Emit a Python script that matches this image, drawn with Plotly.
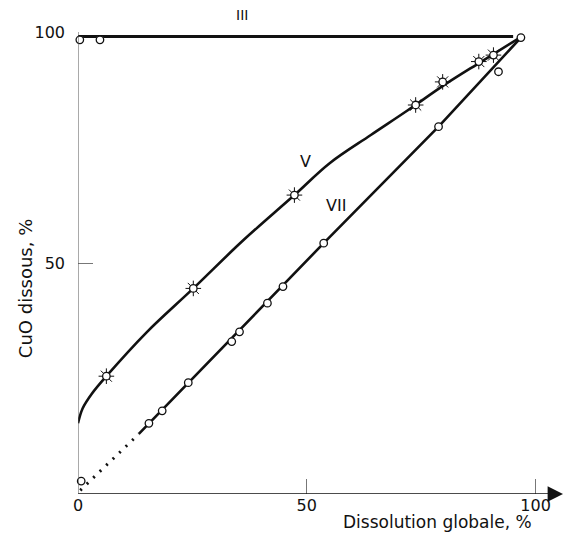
import plotly.graph_objects as go

# ---- data ----
# Curve III (top, flat)
top_line_x = [0.0, 95.1]
top_line_y = [99.0, 99.0]
top_pts_x = [0.4, 4.8]
top_pts_y = [98.3, 98.3]

# Curve V (smooth curve + marked points)
v_curve_x = [0.0, 1.0, 3.1, 6.2, 15.0, 25.2, 36.0, 47.3, 55.0, 64.0, 72.0, 80.0, 88.0, 96.6]
v_curve_y = [15.3, 18.5, 21.8, 25.5, 35.0, 44.5, 54.8, 64.7, 71.6, 77.7, 83.0, 88.5, 93.5, 98.8]
v_pts_x = [6.2, 25.2, 47.3, 73.8, 79.7, 87.6, 90.8]
v_pts_y = [25.5, 44.5, 64.7, 84.2, 89.2, 93.6, 95.0]

# Curve VII
vii_dot_x = [0.5, 13.3]
vii_dot_y = [0.8, 13.0]
vii_line_x = [13.3, 53.7, 78.8, 96.8]
vii_line_y = [13.0, 54.3, 79.5, 98.8]
vii_pts_x = [0.7, 15.5, 18.4, 24.1, 33.6, 35.3, 41.4, 44.8, 53.7, 78.8, 91.9, 96.8]
vii_pts_y = [2.8, 15.3, 18.0, 24.1, 33.0, 35.1, 41.3, 44.9, 54.3, 79.5, 91.4, 98.8]

x_ticks = [0, 50, 100]
x_ticktext = ["0", "50", "100"]
y_ticks = [50, 100]
y_ticktext = ["50", "100"]

FONT = "DejaVu Sans"
INK = "#111111"

fig = go.Figure()

fig.add_trace(go.Scatter(x=top_line_x, y=top_line_y, mode="lines",
                         line=dict(color=INK, width=3), cliponaxis=False, showlegend=False))
fig.add_trace(go.Scatter(x=v_curve_x, y=v_curve_y, mode="lines",
                         line=dict(color=INK, width=2.6, shape="spline", smoothing=1.0),
                         cliponaxis=False, showlegend=False))
fig.add_trace(go.Scatter(x=vii_dot_x, y=vii_dot_y, mode="lines",
                         line=dict(color=INK, width=3, dash="2px,7px"),
                         cliponaxis=False, showlegend=False))
fig.add_trace(go.Scatter(x=vii_line_x, y=vii_line_y, mode="lines",
                         line=dict(color=INK, width=2.6), cliponaxis=False, showlegend=False))

# V markers: spiky circles
fig.add_trace(go.Scatter(x=v_pts_x, y=v_pts_y, mode="markers",
                         marker=dict(symbol="asterisk-open", size=13, color=INK,
                                     line=dict(color=INK, width=1)),
                         cliponaxis=False, showlegend=False))
fig.add_trace(go.Scatter(x=v_pts_x, y=v_pts_y, mode="markers",
                         marker=dict(symbol="circle", size=7.5, color="white",
                                     line=dict(color=INK, width=1.3)),
                         cliponaxis=False, showlegend=False))
# open circles
fig.add_trace(go.Scatter(x=vii_pts_x + top_pts_x, y=vii_pts_y + top_pts_y, mode="markers",
                         marker=dict(symbol="circle", size=7.5, color="white",
                                     line=dict(color=INK, width=1.3)),
                         cliponaxis=False, showlegend=False))

# axis lines drawn as shapes
fig.add_shape(type="line", x0=0, x1=103, y0=0, y1=0, xref="x", yref="y",
              line=dict(color=INK, width=1.6))
fig.add_shape(type="line", x0=0, x1=0, y0=0, y1=100, xref="x", yref="y",
              line=dict(color="#555555", width=1))
fig.add_annotation(x=106, y=0, ax=102.5, ay=0, xref="x", yref="y", axref="x", ayref="y",
                   showarrow=True, arrowhead=2, arrowsize=1.4, arrowwidth=2.2,
                   arrowcolor=INK, text="")

# curve labels
fig.add_annotation(x=49.7, y=72.0, xref="x", yref="y", text="V", showarrow=False,
                   xanchor="center", yanchor="middle",
                   font=dict(family=FONT, size=16, color=INK))
fig.add_annotation(x=56.4, y=62.5, xref="x", yref="y", text="VII", showarrow=False,
                   xanchor="center", yanchor="middle",
                   font=dict(family=FONT, size=16, color=INK))
fig.add_annotation(x=0.338, y=1.037, xref="paper", yref="paper", text="III", showarrow=False,
                   xanchor="center", yanchor="middle",
                   font=dict(family=FONT, size=14, color=INK))

# axis titles
fig.add_annotation(x=0.7415, y=-0.0606, xref="paper", yref="paper",
                   text="Dissolution globale, %", showarrow=False,
                   xanchor="center", yanchor="middle",
                   font=dict(family=FONT, size=17, color=INK))
fig.add_annotation(x=-0.109, y=0.4437, xref="paper", yref="paper",
                   text="CuO dissous, %", showarrow=False, textangle=-90,
                   xanchor="center", yanchor="middle",
                   font=dict(family=FONT, size=18, color=INK))

fig.update_xaxes(range=[0, 106], showline=False, showgrid=False, zeroline=False,
                 tickmode="array", tickvals=x_ticks, ticktext=x_ticktext,
                 ticks="inside", ticklen=15, tickwidth=1, tickcolor="#777777",
                 tickfont=dict(family=FONT, size=16, color=INK))
fig.update_yaxes(range=[0, 100], showline=False, showgrid=False, zeroline=False,
                 tickmode="array", tickvals=y_ticks, ticktext=y_ticktext,
                 ticks="inside", ticklen=15, tickwidth=1, tickcolor="#777777",
                 ticklabelstandoff=12,
                 tickfont=dict(family=FONT, size=16, color=INK))

fig.update_layout(template="none", width=577, height=544, autosize=False,
                  margin=dict(l=78, r=13.5, t=32, b=50),
                  plot_bgcolor="white", paper_bgcolor="white")

fig.write_html("out.html")
